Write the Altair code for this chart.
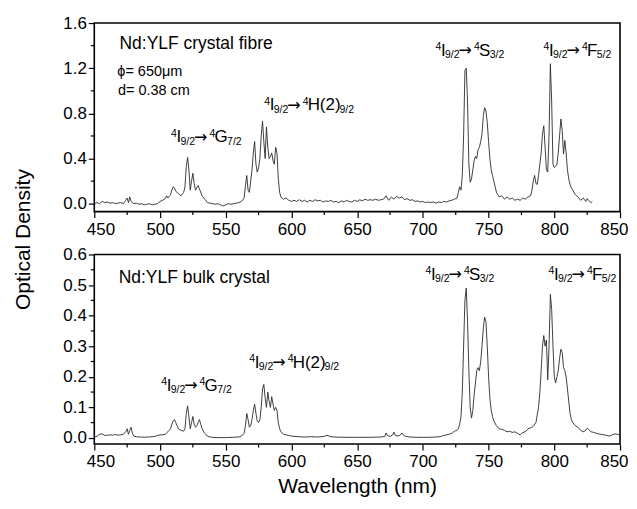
import altair as alt
import pandas as pd

# ---------------- data ----------------
fibre_wl = [450, 452, 454, 456, 458, 460, 462, 464, 466, 468, 470, 472, 474, 475, 476, 477, 478, 480,
            482, 484, 486, 488, 490, 492, 494, 496, 498, 500, 502, 504, 505, 506, 508, 509, 510, 511,
            512, 514, 516, 518, 519, 520, 521, 522, 523, 524, 525, 526, 527, 528, 529, 530, 532, 534,
            536, 538, 540, 542, 544, 546, 548, 550, 552, 554, 556, 558, 560, 562, 564, 565, 566, 567,
            568, 569, 570, 571, 572, 573, 574, 575, 576, 577, 578, 579, 580, 581, 582, 583, 584, 585,
            586, 587, 588, 589, 590, 591, 592, 594, 596, 598, 600, 602, 604, 606, 608, 610, 612, 614,
            616, 618, 620, 622, 624, 626, 628, 630, 632, 634, 636, 638, 640, 642, 644, 646, 648, 650,
            652, 654, 656, 658, 660, 662, 664, 666, 668, 670, 672, 673, 674, 676, 678, 680, 682, 684,
            686, 688, 690, 692, 694, 696, 698, 700, 702, 704, 706, 708, 710, 712, 714, 716, 718, 720,
            722, 724, 726, 727, 728, 729, 730, 731, 732, 733, 734, 735, 736, 737, 738, 739, 740, 741,
            742, 743, 744, 745, 746, 747, 748, 749, 750, 751, 752, 753, 754, 755, 756, 757, 758, 760,
            762, 764, 766, 768, 770, 772, 774, 776, 778, 780, 782, 783, 784, 785, 786, 787, 788, 789,
            790, 791, 792, 793, 794, 795, 796, 797, 798, 799, 800, 801, 802, 803, 804, 805, 806, 807,
            808, 809, 810, 811, 812, 813, 814, 816, 818, 820, 822, 824, 825, 826, 828, 829]
fibre_od = [0.0, 0.01, 0.0, 0.02, 0.01, 0.015, 0.005, 0.01, 0.0, 0.005, 0.01, 0.0, 0.03, 0.05, 0.01, 0.06, 0.02, 0.0,
            0.005, -0.005, 0.0, -0.01, -0.005, 0.0, -0.01, -0.005, 0.0, 0.02, 0.03, 0.045, 0.07, 0.05, 0.08, 0.12, 0.15, 0.14,
            0.11, 0.09, 0.07, 0.1, 0.15, 0.33, 0.41, 0.3, 0.12, 0.2, 0.27, 0.18, 0.12, 0.14, 0.16, 0.13, 0.07, 0.04,
            0.01, 0.005, 0.0, -0.005, 0.0, -0.01, -0.02, -0.01, 0.0, -0.005, 0.0, 0.005, 0.01, 0.02, 0.05, 0.16, 0.25, 0.12,
            0.1, 0.2, 0.3, 0.45, 0.55, 0.35, 0.28, 0.32, 0.4, 0.6, 0.73, 0.55, 0.4, 0.68, 0.5, 0.4, 0.42, 0.45,
            0.38, 0.35, 0.5, 0.45, 0.22, 0.1, 0.06, 0.04, 0.05, 0.03, 0.02, 0.03, 0.02, 0.035, 0.02, 0.03, 0.015, 0.03,
            0.02, 0.035, 0.025, 0.03, 0.015, 0.025, 0.02, 0.03, 0.015, 0.02, 0.01, 0.025, 0.015, 0.03, 0.02, 0.015, 0.03, 0.02,
            0.035, 0.025, 0.04, 0.03, 0.035, 0.03, 0.04, 0.03, 0.035, 0.04, 0.07, 0.05, 0.03, 0.06, 0.04, 0.065, 0.05, 0.06,
            0.035, 0.045, 0.03, 0.035, 0.02, 0.025, 0.015, 0.02, 0.01, 0.015, 0.01, 0.015, 0.005, 0.015, 0.01, 0.02, 0.015, 0.025,
            0.03, 0.04, 0.05, 0.1, 0.15, 0.12, 0.25, 0.6, 1.18, 1.2, 0.9, 0.35, 0.19, 0.22, 0.3, 0.38, 0.42, 0.4,
            0.48, 0.5, 0.55, 0.62, 0.78, 0.85, 0.82, 0.72, 0.55, 0.4, 0.3, 0.25, 0.2, 0.15, 0.1, 0.08, 0.06, 0.07,
            0.04, 0.06, 0.04, 0.05, 0.03, 0.04, 0.03, 0.05, 0.04, 0.06, 0.07, 0.12, 0.2, 0.25, 0.18, 0.17, 0.25, 0.35,
            0.45, 0.62, 0.69, 0.5, 0.3, 0.28, 0.6, 1.24, 0.9, 0.35, 0.32, 0.33, 0.35, 0.45, 0.6, 0.75, 0.65, 0.44,
            0.56, 0.45, 0.3, 0.22, 0.17, 0.14, 0.12, 0.08, 0.06, 0.03, 0.05, 0.02, 0.045, 0.03, 0.01, 0.02]

bulk_wl = [450, 452, 454, 456, 458, 460, 462, 464, 466, 468, 470, 472, 474, 475, 476, 477, 478, 479, 480,
           482, 484, 486, 488, 490, 492, 494, 496, 498, 500, 502, 504, 506, 507, 508, 509, 510, 511, 512,
           513, 514, 516, 518, 519, 520, 521, 522, 523, 524, 525, 526, 527, 528, 529, 530, 531, 532, 534,
           536, 538, 540, 545, 550, 555, 560, 562, 564, 565, 566, 567, 568, 569, 570, 571, 572, 573, 574,
           575, 576, 577, 578, 579, 580, 581, 582, 583, 584, 585, 586, 587, 588, 589, 590, 591, 592, 594,
           596, 598, 600, 605, 610, 615, 620, 625, 627, 629, 632, 640, 650, 660, 668, 671, 672, 673, 675,
           677, 678, 679, 681, 683, 684, 686, 690, 695, 700, 705, 710, 713, 715, 717, 720, 722, 724, 726,
           727, 728, 729, 730, 731, 732, 733, 734, 735, 736, 737, 738, 739, 740, 741, 742, 743, 744, 745,
           746, 747, 748, 749, 750, 751, 752, 753, 754, 756, 758, 760, 762, 764, 766, 768, 770, 772, 774,
           776, 778, 780, 782, 784, 786, 787, 788, 789, 790, 791, 792, 793, 794, 795, 796, 797, 798, 799,
           800, 801, 802, 803, 804, 805, 806, 807, 808, 809, 810, 811, 812, 813, 814, 816, 818, 820, 822,
           824, 825, 826, 828, 830, 832, 835, 838, 840, 842, 844, 846, 848, 850]
bulk_od = [0.003, 0.005, 0.012, 0.013, 0.008, 0.009, 0.01, 0.009, 0.011, 0.009, 0.01, 0.012, 0.02, 0.03, 0.012, 0.025, 0.035, 0.015, 0.006,
           0.004, 0.003, 0.003, 0.002, 0.003, 0.003, 0.004, 0.005, 0.008, 0.01, 0.01, 0.012, 0.02, 0.025, 0.03, 0.045, 0.055, 0.06, 0.05,
           0.04, 0.03, 0.025, 0.022, 0.03, 0.08, 0.105, 0.07, 0.03, 0.05, 0.07, 0.045, 0.035, 0.04, 0.05, 0.06, 0.045, 0.03, 0.015,
           0.006, 0.003, 0.002, 0.001, 0.001, 0.002, 0.003, 0.006, 0.015, 0.04, 0.08, 0.06, 0.035, 0.04, 0.06, 0.09, 0.11, 0.08, 0.055,
           0.05, 0.06, 0.1, 0.16, 0.175, 0.13, 0.1, 0.15, 0.12, 0.1, 0.135, 0.11, 0.09, 0.1, 0.09, 0.05, 0.03, 0.02, 0.012,
           0.01, 0.008, 0.006, 0.004, 0.003, 0.004, 0.003, 0.005, 0.009, 0.005, 0.003, 0.002, 0.002, 0.002, 0.003, 0.005, 0.016, 0.008, 0.005,
           0.01, 0.019, 0.008, 0.006, 0.01, 0.016, 0.006, 0.003, 0.002, 0.002, 0.002, 0.003, 0.004, 0.007, 0.009, 0.012, 0.015, 0.022, 0.025,
           0.03, 0.045, 0.07, 0.15, 0.3, 0.45, 0.49, 0.38, 0.22, 0.1, 0.065, 0.09, 0.14, 0.18, 0.22, 0.23, 0.22, 0.25, 0.3,
           0.36, 0.395, 0.38, 0.3, 0.2, 0.13, 0.09, 0.07, 0.055, 0.04, 0.03, 0.028, 0.025, 0.02, 0.022, 0.018, 0.02, 0.015, 0.01,
           0.018, 0.02, 0.03, 0.033, 0.038, 0.05, 0.075, 0.1, 0.15, 0.22, 0.3, 0.335, 0.3, 0.32, 0.19, 0.3, 0.47, 0.42, 0.3,
           0.2, 0.18, 0.2, 0.22, 0.26, 0.29, 0.28, 0.23, 0.22, 0.2, 0.16, 0.12, 0.08, 0.06, 0.05, 0.04, 0.035, 0.025, 0.02,
           0.025, 0.032, 0.028, 0.02, 0.018, 0.015, 0.012, 0.01, 0.008, 0.006, 0.01, 0.013, 0.012, 0.01]

x_ticks = [450, 500, 550, 600, 650, 700, 750, 800, 850]
x_minor = [475, 525, 575, 625, 675, 725, 775, 825]
top_y_ticks = [0.0, 0.4, 0.8, 1.2, 1.6]
top_y_minor = [0.2, 0.6, 1.0, 1.4]
bot_y_ticks = [0.0, 0.1, 0.2, 0.3, 0.4, 0.5, 0.6]
bot_y_minor = [0.05, 0.15, 0.25, 0.35, 0.45, 0.55]

# transition labels: (final-state letter, final-state subscript)
trans_names = ["G", "H(2)", "S", "F"]
trans_subs = ["7/2", "9/2", "3/2", "5/2"]
letter_width = {"G": 13.2, "H(2)": 32.5, "S": 11.3, "F": 10.4}

FONT = "Liberation Sans"
W = 527
H1 = 189
H2 = 190


def make_axes(yticks, xtitle):
    xaxis = alt.Axis(values=x_ticks, format="d", tickSize=6, labelPadding=4,
                     labelFlush=True, labelFlushOffset=8,
                     domain=False, grid=False, labelFontSize=17, labelFont=FONT,
                     labelColor="black", tickColor="black", tickWidth=1.2,
                     title=xtitle, titleFontSize=21, titleFont=FONT,
                     titleFontWeight="normal", titleColor="black", titlePadding=6)
    yaxis = alt.Axis(values=yticks, format=".1f", tickSize=6, labelPadding=2, labelFlush=False,
                     domain=False, grid=False, labelFontSize=17, labelFont=FONT,
                     labelColor="black", tickColor="black", tickWidth=1.2, title="")
    return xaxis, yaxis


def panel(wl, od, ydom, yticks, yminor, H, labels, texts, xtitle, extra=None):
    xs = alt.Scale(domain=[450, 850], nice=False, zero=False)
    ys = alt.Scale(domain=ydom, nice=False, zero=False)
    xaxis, yaxis = make_axes(yticks, xtitle)

    def X(f):
        return alt.X(f, scale=xs, axis=xaxis)

    def Y(f):
        return alt.Y(f, scale=ys, axis=yaxis)

    def piece(lam, val, text, dx, dy, fs, font=FONT):
        d = pd.DataFrame({"lam": [lam], "val": [val]})
        return alt.Chart(d).mark_text(
            align="left", baseline="alphabetic", dx=dx, dy=dy, fontSize=fs,
            font=font, color="black"
        ).encode(x=X("lam:Q"), y=Y("val:Q"), text=alt.value(text))

    def transition(lam, val, name, sub):
        big, small = 17, 10.5
        w = letter_width[name]
        parts = [("4", 0, -5.5, small, FONT), ("I", 5.5, 0, big, FONT),
                 ("9/2", 9.5, 2.5, small, FONT), ("\u2192", 23, -0.5, 16, "DejaVu Sans"),
                 ("4", 38.5, -5.5, small, FONT), (name, 43.5, 0, big, FONT),
                 (sub, 43.5 + w - 0.5, 2.5, small, FONT)]
        return [piece(lam, val, t, dx, dy, fs, f) for (t, dx, dy, fs, f) in parts]

    df = pd.DataFrame({"wl": wl, "od": od})
    line = alt.Chart(df).mark_line(color="#2a2a2a", strokeWidth=0.9).encode(
        x=X("wl:Q"), y=Y("od:Q"))
    mx = alt.Chart(pd.DataFrame({"m": x_minor})).mark_rule(color="black", strokeWidth=1.2).encode(
        x=X("m:Q"), y=alt.value(H), y2=alt.value(H + 3.5))
    my = alt.Chart(pd.DataFrame({"m": yminor})).mark_rule(color="black", strokeWidth=1.2).encode(
        y=Y("m:Q"), x=alt.value(0), x2=alt.value(-3.5))
    layers = [line, mx, my]
    for (lam, val), name, sub in zip(labels, trans_names, trans_subs):
        layers += transition(lam, val, name, sub)
    for (lam, val, t, fs) in texts:
        layers.append(piece(lam, val, t, 0, 0, fs))
    if extra is not None:
        layers.append(extra)
    return alt.layer(*layers).properties(width=W, height=H)


ytitle = alt.Chart(pd.DataFrame({"a": [0]})).mark_text(
    angle=270, fontSize=21, font=FONT, color="black", align="center", baseline="middle"
).encode(x=alt.value(-70), y=alt.value(217), text=alt.value("Optical Density"))

top = panel(
    fibre_wl, fibre_od, [-0.07, 1.6], top_y_ticks, top_y_minor, H1,
    labels=[(508.4, 0.545), (579.3, 0.826), (709.6, 1.31), (791.8, 1.31)],
    texts=[(469.2, 1.37, "Nd:YLF crystal fibre", 17.5),
           (467.5, 1.129, "\u03d5= 650\u03bcm", 14.5),
           (468.0, 0.964, "d= 0.38 cm", 14.5)],
    xtitle="", extra=ytitle,
)
bottom = panel(
    bulk_wl, bulk_od, [-0.02, 0.6], bot_y_ticks, bot_y_minor, H2,
    labels=[(500.9, 0.154), (567.9, 0.230), (702.0, 0.518), (795.6, 0.518)],
    texts=[(468.6, 0.507, "Nd:YLF bulk crystal", 17.5)],
    xtitle="Wavelength (nm)",
)

chart = alt.vconcat(top, bottom, spacing=43, bounds="flush").properties(
    padding={"left": 4.5, "top": 4.5, "right": 0, "bottom": 0}
).configure(background="white").configure_view(stroke="black", strokeWidth=1.6)

chart.save("out.html", embed_options={"renderer": "svg", "actions": False})
